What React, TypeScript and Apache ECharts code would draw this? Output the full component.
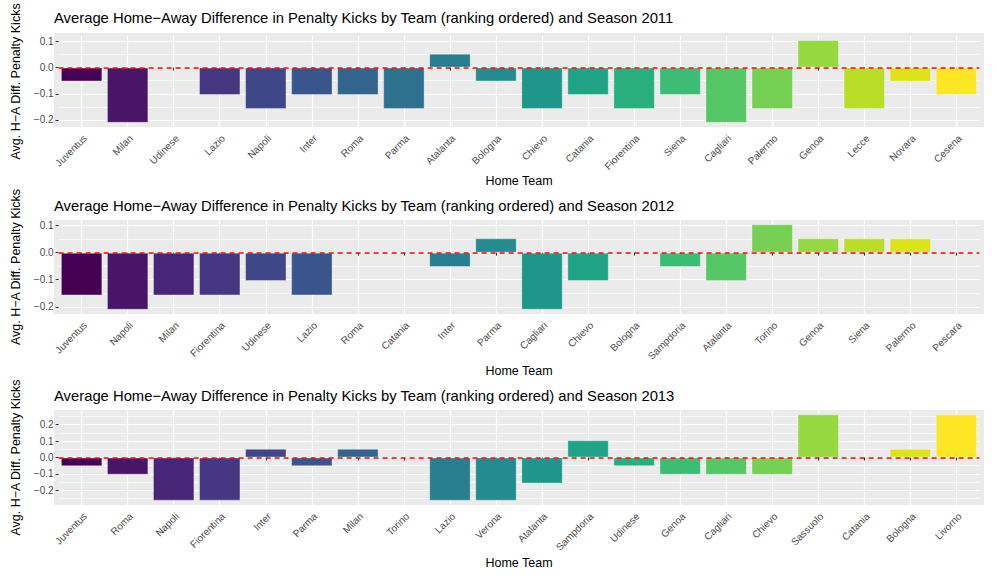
import React, { useEffect, useRef } from "react";
import * as echarts from "echarts";

const teams2011 = ["Juventus", "Milan", "Udinese", "Lazio", "Napoli", "Inter", "Roma", "Parma", "Atalanta", "Bologna", "Chievo", "Catania", "Fiorentina", "Siena", "Cagliari", "Palermo", "Genoa", "Lecce", "Novara", "Cesena"];
const values2011 = [-0.053, -0.211, 0, -0.105, -0.158, -0.105, -0.105, -0.158, 0.053, -0.053, -0.158, -0.105, -0.158, -0.105, -0.211, -0.158, 0.105, -0.158, -0.053, -0.105];

const teams2012 = ["Juventus", "Napoli", "Milan", "Fiorentina", "Udinese", "Lazio", "Roma", "Catania", "Inter", "Parma", "Cagliari", "Chievo", "Bologna", "Sampdoria", "Atalanta", "Torino", "Genoa", "Siena", "Palermo", "Pescara"];
const values2012 = [-0.158, -0.211, -0.158, -0.158, -0.105, -0.158, 0, 0, -0.053, 0.053, -0.211, -0.105, 0, -0.053, -0.105, 0.105, 0.053, 0.053, 0.053, 0];

const teams2013 = ["Juventus", "Roma", "Napoli", "Fiorentina", "Inter", "Parma", "Milan", "Torino", "Lazio", "Verona", "Atalanta", "Sampdoria", "Udinese", "Genoa", "Cagliari", "Chievo", "Sassuolo", "Catania", "Bologna", "Livorno"];
const values2013 = [-0.053, -0.105, -0.263, -0.263, 0.053, -0.053, 0.053, 0, -0.263, -0.263, -0.158, 0.105, -0.053, -0.105, -0.105, -0.105, 0.263, 0, 0.053, 0.263];

const majorTicks12 = [-0.2, -0.1, 0, 0.1];
const minorTicks12 = [-0.15, -0.05, 0.05];
const majorTicks3 = [-0.2, -0.1, 0, 0.1, 0.2];
const minorTicks3 = [-0.25, -0.15, -0.05, 0.05, 0.15, 0.25];

const seasons = ["2011", "2012", "2013"];

const viridis20 = ["#440154", "#481567", "#482677", "#453781", "#3F4788", "#39558C", "#32648E", "#2D718E", "#287D8E", "#238A8D", "#1F968B", "#20A386", "#29AF7F", "#3CBC75", "#56C667", "#75D054", "#95D840", "#BADE28", "#DDE318", "#FDE725"];

function yRange(vals: number[]) {
  const lo = Math.min(0, ...vals);
  const hi = Math.max(0, ...vals);
  const pad = (hi - lo) * 0.05;
  return [lo - pad, hi + pad];
}

export default function App() {
  const ref = useRef<HTMLDivElement>(null);
  useEffect(() => {
    document.body.style.margin = "0";
    const chart = echarts.init(ref.current!, null, { renderer: "svg" });
    const panels = [
      { teams: teams2011, values: values2011, major: majorTicks12, minor: minorTicks12, top: 33, height: 94, nameGap: 47, titleTop: 18 },
      { teams: teams2012, values: values2012, major: majorTicks12, minor: minorTicks12, top: 220, height: 94, nameGap: 50, titleTop: 206 },
      { teams: teams2013, values: values2013, major: majorTicks3, minor: minorTicks3, top: 410, height: 95, nameGap: 51, titleTop: 396 },
    ];
    const panelLeft = 54;
    const panelRight = 984;
    const unit = (panelRight - panelLeft) / 20.2;
    const gridLeft = panelLeft + 0.1 * unit;
    const gridRight = 997 - (panelRight - 0.1 * unit);
    const font = "Liberation Sans, Arial, Helvetica, sans-serif";
    const fmt = (v: number) => (v < 0 ? "\u2212" : "") + Math.abs(v).toFixed(1);

    const grid: any[] = [];
    const xAxis: any[] = [];
    const yAxis: any[] = [];
    const series: any[] = [];
    const graphic: any[] = [];

    panels.forEach((p, i) => {
      const [ymin, ymax] = yRange(p.values);
      grid.push({ left: gridLeft, right: gridRight, top: p.top, height: p.height, containLabel: false });
      graphic.push({
        type: "rect",
        z: -10,
        shape: { x: panelLeft, y: p.top, width: panelRight - panelLeft, height: p.height },
        style: { fill: "#EBEBEB" },
        silent: true,
      });
      graphic.push({
        type: "text",
        z: 10,
        x: panelLeft,
        y: p.titleTop,
        style: {
          text: `Average Home\u2212Away Difference in Penalty Kicks by Team (ranking ordered) and Season ${seasons[i]}`,
          font: `14.8px ${font}`,
          fill: "#000000",
          verticalAlign: "middle",
        },
        silent: true,
      });
      xAxis.push({
        type: "category",
        gridIndex: i,
        data: p.teams,
        name: "Home Team",
        nameLocation: "middle",
        nameGap: p.nameGap,
        nameTextStyle: { color: "#000000", fontSize: 12.5, fontFamily: font },
        axisLine: { show: false },
        axisTick: { show: true, alignWithLabel: true, length: 3, lineStyle: { color: "#333333", width: 1 } },
        axisLabel: { rotate: 45, fontSize: 10, color: "#4D4D4D", fontFamily: font, margin: 6, interval: 0, align: "right", verticalAlign: "top" },
        splitLine: { show: true, alignWithLabel: true, interval: 0, lineStyle: { color: "#FFFFFF", width: 1.2 } },
        z: 0,
      });
      yAxis.push({
        type: "value",
        gridIndex: i,
        min: ymin,
        max: ymax,
        name: "Avg. H\u2212A Diff. Penalty Kicks",
        nameLocation: "middle",
        nameRotate: 90,
        nameGap: 34,
        nameTextStyle: { color: "#000000", fontSize: 12.5, fontFamily: font },
        axisLine: { show: false },
        axisTick: { show: true, length: 3, customValues: p.major, lineStyle: { color: "#333333", width: 1 } },
        axisLabel: { customValues: p.major, fontSize: 10, color: "#4D4D4D", fontFamily: font, margin: 5, formatter: fmt },
        splitLine: { show: true, lineStyle: { color: "#FFFFFF", width: 1.2 } },
        z: 0,
      });
      yAxis.push({
        type: "value",
        gridIndex: i,
        min: ymin,
        max: ymax,
        position: "left",
        axisLine: { show: false },
        axisTick: { show: false, customValues: p.minor },
        axisLabel: { show: false, customValues: p.minor },
        splitLine: { show: true, lineStyle: { color: "#FFFFFF", width: 0.6 } },
        z: 0,
      });
    });

    panels.forEach((p, i) => {
      series.push({
        type: "bar",
        xAxisIndex: i,
        yAxisIndex: i * 2,
        barCategoryGap: "10%",
        z: 2,
        data: p.values.map((v, k) => ({
          value: v,
          itemStyle: { color: viridis20[k], borderColor: "rgba(255,255,255,0.35)", borderWidth: v === 0 ? 0 : 1 },
        })),
        markLine: {
          silent: true,
          symbol: "none",
          label: { show: false },
          animation: false,
          z: 10,
          lineStyle: { color: "#FF0000", width: 1.5, type: [5, 4], opacity: 1 },
          emphasis: { disabled: true },
          data: [{ yAxis: 0 }],
        },
      });
    });

    chart.setOption({
      animation: false,
      backgroundColor: "#FFFFFF",
      grid,
      xAxis,
      yAxis,
      series,
      graphic: { elements: graphic },
    });
    return () => chart.dispose();
  }, []);
  return <div ref={ref} style={{ width: 997, height: 581 }} />;
}
